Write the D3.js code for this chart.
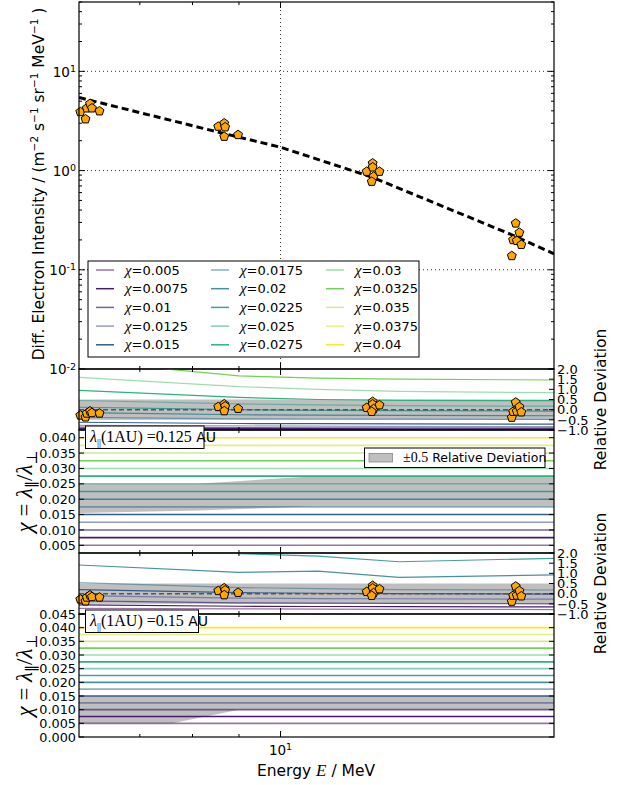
<!DOCTYPE html>
<html><head><meta charset="utf-8">
<script src="https://cdn.jsdelivr.net/npm/d3@7"></script>
<style>
body{margin:0;background:#fff}
svg{display:block}
text{font-family:"DejaVu Sans",sans-serif;fill:#000}
.m{font-family:"Liberation Serif","DejaVu Serif",serif}
</style>
</head><body><svg id="c" width="632" height="785"></svg>
<script>
// ---------------- DATA ----------------
const chiValues = [0.005,0.0075,0.01,0.0125,0.015,0.0175,0.02,0.0225,0.025,0.0275,0.03,0.0325,0.035,0.0375,0.04];
const chiLabels = ["0.005","0.0075","0.01","0.0125","0.015","0.0175","0.02","0.0225","0.025","0.0275","0.03","0.0325","0.035","0.0375","0.04"];

// measured electron intensities (MeV, m^-2 s^-1 sr^-1 MeV^-1)
const obsEnergy    = [6.02,6.10,6.12,6.17,6.20,6.32, 8.54,8.67,8.69,8.67,8.98, 12.44,12.63,12.63,12.66,12.60,12.85, 17.97,18.03,18.15,18.20,18.32,18.41];
const obsIntensity = [3.90,3.30,4.25,4.72,4.25,3.97, 2.78,3.00,2.74,2.20,2.29, 0.977,1.185,1.08,0.87,0.774,0.977, 0.138,0.200,0.294,0.196,0.237,0.179];

// reference spectrum (dashed)
const refEnergy    = [6, 8.7, 10, 12.6, 18, 20];
const refIntensity = [5.45, 2.34, 1.72, 0.86, 0.224, 0.145];

// relative deviation of the model for each chi, at these energies
const devEnergy = [6, 9, 11, 13.5, 20];
const dev0125 = [
  [-0.96,-0.97,-0.97,-0.97,-0.97],
  [-0.92,-0.93,-0.93,-0.94,-0.94],
  [-0.86,-0.88,-0.89,-0.89,-0.90],
  [-0.77,-0.80,-0.81,-0.82,-0.83],
  [-0.62,-0.68,-0.69,-0.70,-0.71],
  [-0.38,-0.45,-0.46,-0.47,-0.48],
  [-0.15,-0.25,-0.27,-0.28,-0.30],
  [ 0.12, 0.00,-0.03,-0.05,-0.07],
  [ 0.45, 0.28, 0.24, 0.20, 0.17],
  [ 0.95, 0.60, 0.50, 0.46, 0.44],
  [ 1.59, 1.13, 1.00, 0.90, 0.835],
  [ 2.40, 1.66, 1.55, 1.50, 1.46],
  [ 3.20, 2.30, 2.20, 2.15, 2.10],
  [ 4.00, 3.00, 2.90, 2.90, 2.80],
  [ 5.00, 3.80, 3.60, 3.50, 3.40]
];
const dev015 = [
  [-0.72,-0.75,-0.76,-0.77,-0.78],
  [-0.55,-0.62,-0.63,-0.64,-0.65],
  [-0.35,-0.45,-0.47,-0.48,-0.50],
  [-0.10,-0.22,-0.24,-0.25,-0.27],
  [ 0.20, 0.05, 0.02, 0.00,-0.02],
  [ 0.54, 0.30, 0.25, 0.20, 0.18],
  [ 1.41, 1.05, 1.11, 0.80, 0.92],
  [ 2.50, 1.97, 1.85, 1.57, 1.74],
  [ 3.6, 3.0, 2.9, 2.7, 2.8],
  [ 4.6, 4.0, 3.9, 3.7, 3.8],
  [ 5.6, 5.0, 4.9, 4.7, 4.8],
  [ 6.6, 6.0, 5.9, 5.7, 5.8],
  [ 7.6, 7.0, 6.9, 6.7, 6.8],
  [ 8.6, 8.0, 7.9, 7.7, 7.8],
  [ 9.6, 9.0, 8.9, 8.7, 8.8]
];
// chi range within +-0.5 relative deviation
const band0125Energy = [6, 8.1, 10.9, 20];
const band0125Low    = [0.0155, 0.0163, 0.0177, 0.0177];
const band0125High   = [0.025, 0.025, 0.0275, 0.0275];
const band015Energy  = [6, 7.6, 9.0, 20];
const band015Low     = [0.005, 0.005, 0.01, 0.01];
const band015High    = [0.015, 0.015, 0.015, 0.015];

const lambdaLabels = ["0.125", "0.15"];
const xMajorTicks = [10];
const xMinorTicks = [7, 8, 9];
const devTicks = [2.0, 1.5, 1.0, 0.5, 0.0, -0.5, -1.0];
const chiTicks1 = [0.005,0.010,0.015,0.020,0.025,0.030,0.035,0.040];
const chiTicks2 = [0.000,0.005,0.010,0.015,0.020,0.025,0.030,0.035,0.040,0.045];
const mainMajor = [0.01, 0.1, 1, 10];

// styles (per series)
const lineAlpha = [0.55,1,0.75,0.55,1,0.55,0.85,0.85,0.55,1,0.55,1,0.55,0.55,1];

// ---------------- LAYOUT ----------------
const L = 79, R = 554;
const svg = d3.select("#c");
const x = d3.scaleLog().domain([6, 20]).range([L, R]);
const yMain = d3.scaleLog().domain([0.01, 50]).range([369, 2]);
const yDev1 = d3.scaleLinear().domain([-1, 2]).range([430, 369]);
const yChi1 = d3.scaleLinear().domain([0.0025, 0.0425]).range([553, 430]);
const yDev2 = d3.scaleLinear().domain([-1, 2]).range([614, 553]);
const yChi2 = d3.scaleLinear().domain([0, 0.045]).range([737, 614]);
const color = i => d3.interpolateViridis(i / (chiValues.length - 1));

const defs = svg.append("defs");
function clip(id, y0, y1){
  defs.append("clipPath").attr("id", id).append("rect")
    .attr("x", L).attr("y", y0).attr("width", R - L).attr("height", y1 - y0);
  return `url(#${id})`;
}

// reference model interpolation (log-log)
function refAt(E){
  const lx = Math.log(E);
  for (let i = 0; i < refEnergy.length - 1; i++){
    const a = Math.log(refEnergy[i]), b = Math.log(refEnergy[i+1]);
    if (lx <= b || i === refEnergy.length - 2){
      const t = (lx - a) / (b - a);
      return Math.exp(Math.log(refIntensity[i]) + t * (Math.log(refIntensity[i+1]) - Math.log(refIntensity[i])));
    }
  }
}

const pentagon = {draw(ctx, size){
  const r = Math.sqrt(size);
  for (let i = 0; i < 5; i++){
    const a = -Math.PI/2 + i * 2 * Math.PI / 5;
    const px = r * Math.cos(a), py = r * Math.sin(a);
    if (i === 0) ctx.moveTo(px, py); else ctx.lineTo(px, py);
  }
  ctx.closePath();
}};
const sym = d3.symbol().type(pentagon).size(22)();

function drawPoints(g, yFn){
  g.selectAll("path.pt").data(obsEnergy.map((e,i)=>[e,obsIntensity[i]])).join("path")
    .attr("class","pt").attr("d", sym)
    .attr("transform", d => `translate(${x(d[0])},${yFn(d)})`)
    .attr("fill", "#ffa500").attr("stroke", "#000").attr("stroke-width", 1);
}

function xTicks(y0, y1){
  const g = svg.append("g");
  xMinorTicks.forEach(v => {
    g.append("line").attr("x1", x(v)).attr("x2", x(v)).attr("y1", y0).attr("y2", y0 + 3).attr("stroke", "#000");
    g.append("line").attr("x1", x(v)).attr("x2", x(v)).attr("y1", y1).attr("y2", y1 - 3).attr("stroke", "#000");
  });
  xMajorTicks.forEach(v => {
    g.append("line").attr("x1", x(v)).attr("x2", x(v)).attr("y1", y0).attr("y2", y0 + 6).attr("stroke", "#000");
    g.append("line").attr("x1", x(v)).attr("x2", x(v)).attr("y1", y1).attr("y2", y1 - 6).attr("stroke", "#000");
  });
}

function frame(y0, y1){
  svg.append("rect").attr("x", L).attr("y", y0).attr("width", R - L).attr("height", y1 - y0)
    .attr("fill", "none").attr("stroke", "#000").attr("stroke-width", 1.2);
}

// ---------------- MAIN PANEL ----------------
{
  const g = svg.append("g");
  [0.1, 1, 10].forEach(v => g.append("line").attr("x1", L).attr("x2", R).attr("y1", yMain(v)).attr("y2", yMain(v))
      .attr("stroke", "#333").attr("stroke-dasharray", "1,3"));
  g.append("line").attr("x1", x(10)).attr("x2", x(10)).attr("y1", 2).attr("y2", 369)
      .attr("stroke", "#333").attr("stroke-dasharray", "1,3");
  const minors = [];
  [0.01, 0.1, 1, 10].forEach(d => { for (let k = 2; k <= 9; k++){ const v = d * k; if (v <= 50) minors.push(v); } });
  minors.forEach(v => {
    g.append("line").attr("x1", L).attr("x2", L + 3).attr("y1", yMain(v)).attr("y2", yMain(v)).attr("stroke", "#000");
    g.append("line").attr("x1", R).attr("x2", R - 3).attr("y1", yMain(v)).attr("y2", yMain(v)).attr("stroke", "#000");
  });
  mainMajor.forEach(v => {
    g.append("line").attr("x1", L).attr("x2", L + 6).attr("y1", yMain(v)).attr("y2", yMain(v)).attr("stroke", "#000");
    g.append("line").attr("x1", R).attr("x2", R - 6).attr("y1", yMain(v)).attr("y2", yMain(v)).attr("stroke", "#000");
    const t = g.append("text").attr("x", 76).attr("y", yMain(v)).attr("dy", "0.4em").attr("text-anchor", "end").attr("font-size", 13.5);
    t.append("tspan").text("10");
    t.append("tspan").attr("dy", "-0.5em").attr("font-size", 9.5).text(String(Math.round(Math.log10(v))).replace("-", "-"));
  });
  g.append("path").datum(refEnergy.map((e,i)=>[e, refIntensity[i]]))
    .attr("clip-path", clip("cm", 2, 369))
    .attr("d", d3.line().x(d => x(d[0])).y(d => yMain(d[1])))
    .attr("fill", "none").attr("stroke", "#000").attr("stroke-width", 3).attr("stroke-dasharray", "7,4");
  drawPoints(g, d => yMain(d[1]));
  xTicks(2, 369);
  frame(2, 369);

  // legend
  const lg = svg.append("g");
  lg.append("rect").attr("x", 88).attr("y", 261).attr("width", 331).attr("height", 96)
    .attr("fill", "#fff").attr("stroke", "#000").attr("stroke-width", 1);
  chiValues.forEach((c, i) => {
    const col = Math.floor(i / 5), row = i % 5;
    const lx = [96, 211, 326][col], ly = 270 + row * 18.7;
    lg.append("line").attr("x1", lx).attr("x2", lx + 18).attr("y1", ly).attr("y2", ly)
      .attr("stroke", color(i)).attr("stroke-opacity", lineAlpha[i]).attr("stroke-width", 1.5);
    const t = lg.append("text").attr("x", lx + 29).attr("y", ly).attr("dy", "0.36em").attr("font-size", 13);
    t.append("tspan").attr("class", "m").attr("font-style", "italic").attr("font-size", 15).text("χ");
    t.append("tspan").text("=" + chiLabels[i]);
  });
}

// ---------------- DEVIATION + CHI PANELS ----------------
function devPanel(yDev, devs, y0, y1, cid){
  const g = svg.append("g").attr("clip-path", clip(cid, y0, y1));
  g.append("rect").attr("x", L).attr("y", yDev(0.5)).attr("width", R - L).attr("height", yDev(-0.5) - yDev(0.5)).attr("fill", "#bfbfbf");
  devs.forEach((row, i) => {
    g.append("path").datum(devEnergy.map((e, j) => [e, row[j]]))
      .attr("d", d3.line().x(d => x(d[0])).y(d => yDev(d[1])))
      .attr("fill", "none").attr("stroke", color(i)).attr("stroke-opacity", lineAlpha[i]).attr("stroke-width", 1.2);
  });
  g.append("line").attr("x1", L).attr("x2", R).attr("y1", yDev(0)).attr("y2", yDev(0))
    .attr("stroke", "#555").attr("stroke-width", 1.5).attr("stroke-dasharray", "5,3");
  drawPoints(svg.append("g"), d => yDev(d[1] / refAt(d[0]) - 1));
  devTicks.forEach(v => {
    svg.append("line").attr("x1", R).attr("x2", R - 5).attr("y1", yDev(v)).attr("y2", yDev(v)).attr("stroke", "#000");
    svg.append("text").attr("x", 557).attr("y", yDev(v)).attr("dy", "0.36em").attr("font-size", 13)
      .text(v < 0 ? "−" + Math.abs(v).toFixed(1) : v.toFixed(1));
  });
  svg.append("text").attr("transform", `translate(606,${(y0 + y1) / 2}) rotate(-90)`)
    .attr("text-anchor", "middle").attr("font-size", 15.5).text("Relative Deviation");
  xTicks(y0, y1);
  frame(y0, y1);
}

function chiPanel(yChi, bandE, bandLo, bandHi, ticks, y0, y1, cid){
  const g = svg.append("g").attr("clip-path", clip(cid, y0, y1));
  const poly = bandE.map((e, j) => [x(e), yChi(bandHi[j])])
    .concat(bandE.map((e, j) => [x(e), yChi(bandLo[j])]).reverse());
  g.append("path").attr("d", "M" + poly.join("L") + "Z").attr("fill", "#bfbfbf");
  chiValues.forEach((c, i) => {
    g.append("line").attr("x1", L).attr("x2", R).attr("y1", yChi(c)).attr("y2", yChi(c))
      .attr("stroke", color(i)).attr("stroke-opacity", lineAlpha[i]).attr("stroke-width", 1.6);
  });
  ticks.forEach(v => {
    svg.append("line").attr("x1", L).attr("x2", L + 5).attr("y1", yChi(v)).attr("y2", yChi(v)).attr("stroke", "#000");
    svg.append("line").attr("x1", R).attr("x2", R - 5).attr("y1", yChi(v)).attr("y2", yChi(v)).attr("stroke", "#000");
    svg.append("text").attr("x", 76).attr("y", yChi(v)).attr("dy", "0.36em").attr("text-anchor", "end")
      .attr("font-size", 12.8).text(v.toFixed(3));
  });
  const t = svg.append("text").attr("transform", `translate(32,${(y0 + y1) / 2}) rotate(-90)`)
    .attr("text-anchor", "middle").attr("font-size", 23).attr("class", "m");
  t.append("tspan").attr("font-style", "italic").text("χ");
  t.append("tspan").text(" = ");
  t.append("tspan").attr("font-style", "italic").text("λ");
  t.append("tspan").attr("font-size", 15).attr("dy", 5).text("∥");
  t.append("tspan").attr("dy", -5).text("/");
  t.append("tspan").attr("font-style", "italic").text("λ");
  t.append("tspan").attr("font-size", 15).attr("dy", 5).text("⊥");
  xTicks(y0, y1);
  frame(y0, y1);
}

function lamBox(y, w, lam){
  const g = svg.append("g");
  g.append("rect").attr("x", 85.5).attr("y", y).attr("width", w).attr("height", 22.5)
    .attr("fill", "#fff").attr("stroke", "#000").attr("stroke-width", 1);
  const t = g.append("text").attr("x", 90).attr("y", y + 16).attr("font-size", 14);
  t.append("tspan").attr("class", "m").attr("font-style", "italic").attr("font-size", 16).text("λ");
  t.append("tspan").attr("class", "m").attr("font-size", 10).attr("dy", 4).text("||");
  t.append("tspan").attr("class", "m").attr("font-size", 16).attr("dy", -4).text("(1AU) =" + lam);
  t.append("tspan").text(" AU");
}

devPanel(yDev1, dev0125, 369, 430, "cd1");
chiPanel(yChi1, band0125Energy, band0125Low, band0125High, chiTicks1, 430, 553, "cc1");
devPanel(yDev2, dev015, 553, 614, "cd2");
chiPanel(yChi2, band015Energy, band015Low, band015High, chiTicks2, 614, 737, "cc2");
lamBox(426, 118.5, lambdaLabels[0]);
lamBox(610, 113, lambdaLabels[1]);

// legend for band
{
  const g = svg.append("g");
  g.append("rect").attr("x", 364.5).attr("y", 448).attr("width", 180.5).attr("height", 19.5)
    .attr("fill", "#fff").attr("stroke", "#000").attr("stroke-width", 1);
  g.append("rect").attr("x", 369).attr("y", 453.5).attr("width", 23.5).attr("height", 8.5)
    .attr("fill", "#bfbfbf").attr("stroke", "#888").attr("stroke-width", 0.8);
  const t = g.append("text").attr("x", 403).attr("y", 462).attr("font-size", 12.5);
  t.append("tspan").attr("class", "m").attr("font-size", 14).text("±0.5");
  t.append("tspan").text(" Relative Deviation");
}

// bottom x labels
{
  const t = svg.append("text").attr("x", x(10)).attr("y", 755).attr("text-anchor", "middle").attr("font-size", 13.5);
  t.append("tspan").text("10");
  t.append("tspan").attr("dy", "-0.5em").attr("font-size", 9.5).text("1");
  const xl = svg.append("text").attr("x", 316).attr("y", 776).attr("text-anchor", "middle").attr("font-size", 15.5);
  xl.append("tspan").text("Energy ");
  xl.append("tspan").attr("class", "m").attr("font-style", "italic").attr("font-size", 17).text("E");
  xl.append("tspan").text(" / MeV");
}
// main y label
{
  const t = svg.append("text").attr("transform", "translate(44,184) rotate(-90)").attr("text-anchor", "middle").attr("font-size", 15.5);
  t.append("tspan").text("Diff. Electron Intensity / (m");
  const sup = s => { t.append("tspan").attr("dy", -6).attr("font-size", 10.5).text(s); };
  const base = s => { t.append("tspan").attr("dy", 6).text(s); };
  sup("−2"); base(" s"); sup("−1"); base(" sr"); sup("−1"); base(" MeV"); sup("−1"); base(" )");
}
</script></body></html>
